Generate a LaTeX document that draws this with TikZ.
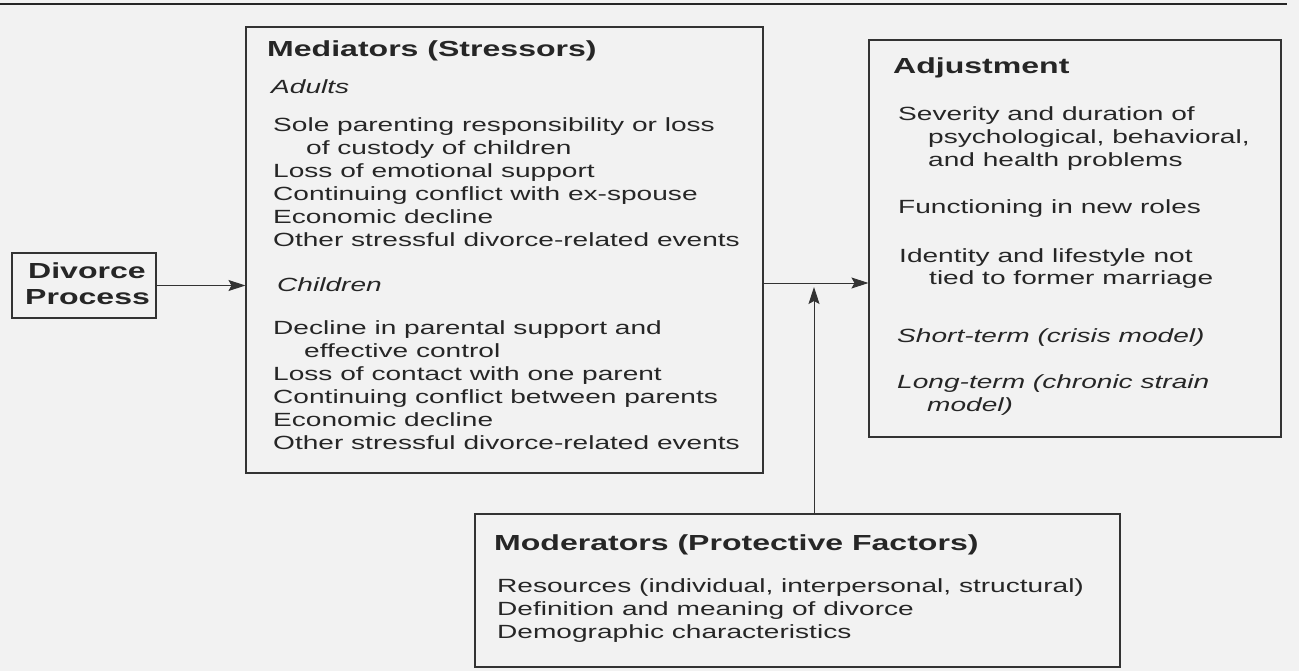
\documentclass[tikz,border=0pt]{standalone}
\usepackage{fontspec}
\setmainfont{Liberation Sans}[FakeStretch=1.47]
\usetikzlibrary{arrows.meta}
\begin{document}
\begin{tikzpicture}[x=1pt,y=1pt,
  box/.style={draw=black!80,line width=1.1pt,inner sep=0pt,rectangle},
  txt/.style={anchor=base west,inner sep=0pt,text=black!85,font=\fontsize{19.1}{23.3}\selectfont},
  itx/.style={txt,font=\fontsize{19.1}{23.3}\selectfont\itshape},
  hd/.style={anchor=base west,inner sep=0pt,text=black!85,font=\fontsize{21.8}{26}\selectfont\bfseries},
  conn/.style={draw=black!80,line width=0.9pt,-{Stealth[length=17pt,width=11pt,inset=3pt]}}
]
\useasboundingbox[fill=black!5] (0,0) rectangle (1299,-671);
\draw[black!85,line width=2pt] (0,-4) -- (1287,-4);

% boxes
\node[box,minimum width=144,minimum height=65] (div) at (84,-285.5) {};
\node[box,minimum width=517,minimum height=446] (med) at (504.5,-250) {};
\node[box,minimum width=412,minimum height=397] (adj) at (1075,-238.5) {};
\node[box,minimum width=645,minimum height=153] (mod) at (797.5,-590.5) {};
\coordinate (j) at (814,-283);

% connectors
\draw[conn] (div.east) -- (med.west |- div.east);
\draw[conn] (med.east |- j) -- (adj.west |- j);
\draw[conn,shorten >=4pt] (mod.north -| j) -- (j);

% Divorce Process
\node[hd] (d1) at (28,-279) {Divorce};
\node[hd] (d2) at (25,-304) {Process};

% Mediators
\node[hd] (m0) at (267,-57) {Mediators (Stressors)};
\node[itx] (m1) at (271,-94) {Adults};
\node[txt] (m2) at (273,-132) {Sole parenting responsibility or loss};
\node[txt] (m3) at (306,-155) {of custody of children};
\node[txt] (m4) at (273,-178) {Loss of emotional support};
\node[txt] (m5) at (273,-201) {Continuing conflict with ex-spouse};
\node[txt] (m6) at (273,-224) {Economic decline};
\node[txt] (m7) at (273,-247) {Other stressful divorce-related events};
\node[itx] (m8) at (277,-291) {Children};
\node[txt] (m9) at (273,-334) {Decline in parental support and};
\node[txt] (m10) at (304,-357) {effective control};
\node[txt] (m11) at (273,-380) {Loss of contact with one parent};
\node[txt] (m12) at (273,-403) {Continuing conflict between parents};
\node[txt] (m13) at (273,-426) {Economic decline};
\node[txt] (m14) at (273,-449) {Other stressful divorce-related events};

% Adjustment
\node[hd] (a0) at (893,-74) {Adjustment};
\node[txt] (a1) at (898,-121) {Severity and duration of};
\node[txt] (a2) at (928,-144) {psychological, behavioral,};
\node[txt] (a3) at (928,-167) {and health problems};
\node[txt] (a4) at (898,-214) {Functioning in new roles};
\node[txt] (a5) at (899,-262) {Identity and lifestyle not};
\node[txt] (a6) at (929,-284) {tied to former marriage};
\node[itx] (a7) at (897,-342) {Short-term (crisis model)};
\node[itx] (a8) at (897,-388) {Long-term (chronic strain};
\node[itx] (a9) at (927,-411) {model)};

% Moderators
\node[hd] (o0) at (494,-550) {Moderators (Protective Factors)};
\node[txt] (o1) at (497,-592) {Resources (individual, interpersonal, structural)};
\node[txt] (o2) at (497,-615) {Definition and meaning of divorce};
\node[txt] (o3) at (497,-638) {Demographic characteristics};
\end{tikzpicture}
\end{document}
